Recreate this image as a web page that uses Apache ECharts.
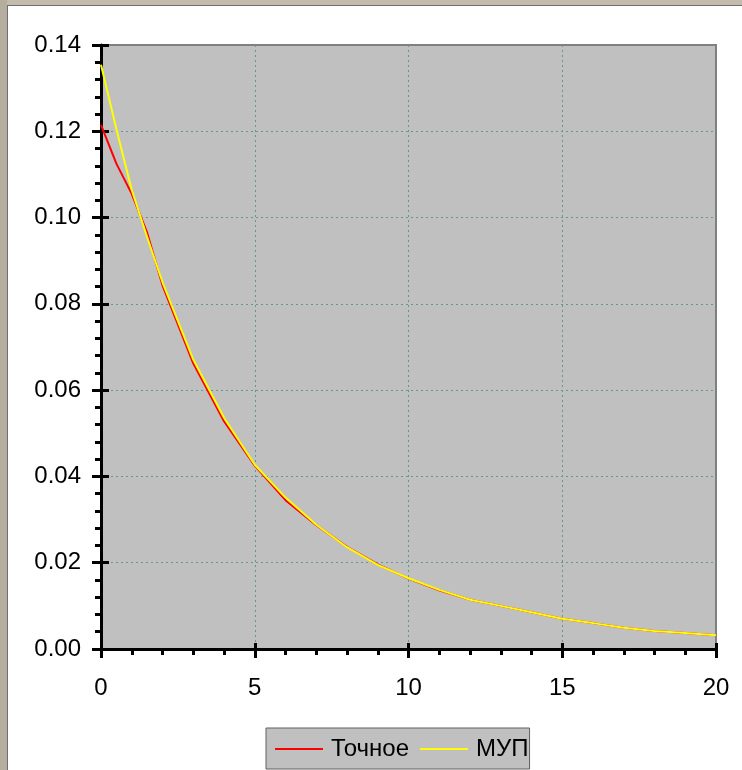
<!DOCTYPE html>
<html>
<head>
<meta charset="utf-8">
<script src="https://cdn.jsdelivr.net/npm/echarts@6/dist/echarts.min.js"></script>
<style>
html,body{margin:0;padding:0;background:#fff;}
#chart{width:742px;height:770px;}
</style>
</head>
<body>
<div id="chart"></div>
<script>
// ---- data ----
const seriesNames = ['Точное', 'МУП'];
const xExact = [0, 0.5, 1, 1.5, 2, 3, 4, 5, 6, 7, 8, 9, 10, 11, 12, 13, 14, 15, 16, 17, 18, 19, 20];
const yExact = [0.1215, 0.1125, 0.1055, 0.0965, 0.0843, 0.0662, 0.0528, 0.0425, 0.0345, 0.0287, 0.0237, 0.0196, 0.0163, 0.0136, 0.0114, 0.0100, 0.0085, 0.0070, 0.0060, 0.0049, 0.0042, 0.0037, 0.0032];
const xMup = [0, 0.5, 1, 1.5, 2, 3, 4, 5, 6, 7, 8, 9, 10, 11, 12, 13, 14, 15, 16, 17, 18, 19, 20];
const yMup = [0.1354, 0.1205, 0.1064, 0.0955, 0.0850, 0.0671, 0.0536, 0.0427, 0.0351, 0.0288, 0.0236, 0.0195, 0.0164, 0.0137, 0.0114, 0.0100, 0.0085, 0.0070, 0.0060, 0.0049, 0.0042, 0.0037, 0.0032];
const xTicks = { min: 0, max: 20, interval: 5 };
const yTicks = { min: 0, max: 0.14, interval: 0.02 };

const zip = (xs, ys) => xs.map((x, i) => [x, ys[i]]);
const FONT = '"Liberation Sans", Arial, sans-serif';
const FS = 24;

const chart = echarts.init(document.getElementById('chart'), null, { renderer: 'canvas' });

const gridLine = { show: true, showMinLine: false, showMaxLine: false, lineStyle: { color: '#5f9a8a', width: 1, type: [2, 3] } };

chart.setOption({
  backgroundColor: '#ffffff',
  animation: false,
  textStyle: { fontFamily: FONT },
  graphic: [
    { type: 'rect', shape: { x: 0, y: 0, width: 742, height: 5 }, style: { fill: '#c3bcac' }, silent: true },
    { type: 'rect', shape: { x: 0, y: 0, width: 7, height: 770 }, style: { fill: '#b5ae9f' }, silent: true },
    { type: 'rect', shape: { x: 7, y: 5, width: 735, height: 1 }, style: { fill: '#707070' }, silent: true },
    { type: 'rect', shape: { x: 7, y: 5, width: 1, height: 765 }, style: { fill: '#707070' }, silent: true }
  ],
  grid: {
    left: 101, top: 45, right: 26, bottom: 121,
    show: true, backgroundColor: '#c0c0c0', borderColor: '#808080', borderWidth: 2
  },
  legend: {
    data: seriesNames,
    left: 266, top: 728,
    backgroundColor: '#c0c0c0', borderColor: '#606060', borderWidth: 1, borderRadius: 0,
    padding: [9, 1, 8, 9],
    itemWidth: 48, itemHeight: 2, itemGap: 11, icon: 'rect',
    textStyle: { fontFamily: FONT, fontSize: FS, color: '#000', padding: [0, 0, 0, 3] }
  },
  xAxis: [
    {
      type: 'value', min: xTicks.min, max: xTicks.max, interval: xTicks.interval,
      axisLine: { show: true, onZero: false, lineStyle: { color: '#000', width: 3 } },
      axisTick: { show: true, inside: false, length: 9, lineStyle: { color: '#000', width: 3 } },
      minorTick: { show: true, splitNumber: 5, length: 6, lineStyle: { color: '#000', width: 3 } },
      axisLabel: { show: true, margin: 27, fontSize: FS, color: '#000', fontFamily: FONT },
      splitLine: gridLine
    },
    {
      type: 'value', position: 'bottom', min: xTicks.min, max: xTicks.max, interval: xTicks.interval,
      axisLine: { show: false },
      axisTick: { show: true, inside: true, length: 6, lineStyle: { color: '#000', width: 3 } },
      axisLabel: { show: false }, splitLine: { show: false }
    }
  ],
  yAxis: [
    {
      type: 'value', min: yTicks.min, max: yTicks.max, interval: yTicks.interval,
      axisLine: { show: true, onZero: false, lineStyle: { color: '#000', width: 3 } },
      axisTick: { show: true, inside: false, length: 9, lineStyle: { color: '#000', width: 3 } },
      minorTick: { show: true, splitNumber: 5, length: 6, lineStyle: { color: '#000', width: 3 } },
      axisLabel: { show: true, margin: 20, fontSize: FS, color: '#000', fontFamily: FONT, formatter: v => v.toFixed(2) },
      splitLine: gridLine
    },
    {
      type: 'value', position: 'left', min: yTicks.min, max: yTicks.max, interval: yTicks.interval,
      axisLine: { show: false },
      axisTick: { show: true, inside: true, length: 8, lineStyle: { color: '#000', width: 3 } },
      axisLabel: { show: false }, splitLine: { show: false }
    }
  ],
  series: [
    {
      name: seriesNames[0], type: 'line', data: zip(xExact, yExact), xAxisIndex: 0, yAxisIndex: 0,
      showSymbol: false, symbol: 'none', color: '#ff0000', lineStyle: { color: '#ff0000', width: 2 }, z: 3
    },
    {
      name: seriesNames[1], type: 'line', data: zip(xMup, yMup), xAxisIndex: 0, yAxisIndex: 0,
      showSymbol: false, symbol: 'none', color: '#ffff00', lineStyle: { color: '#ffff00', width: 2 }, z: 4
    }
  ]
});
</script>
</body>
</html>
